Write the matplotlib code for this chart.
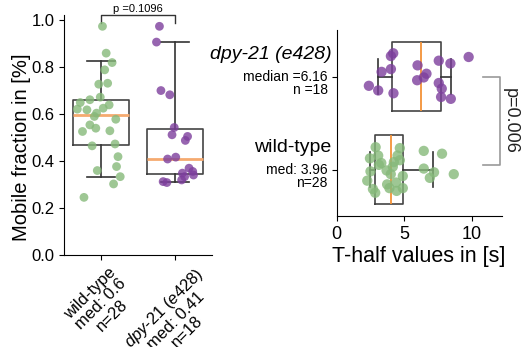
import numpy as np
import matplotlib
matplotlib.use('Agg')
import matplotlib.pyplot as plt
import matplotlib.transforms as mtransforms

plt.rcParams['font.family'] = ['Liberation Sans', 'DejaVu Sans']
plt.rcParams['mathtext.fontset'] = 'custom'
plt.rcParams['mathtext.rm'] = 'Liberation Sans'
plt.rcParams['mathtext.it'] = 'Liberation Sans:italic'

# ---- mobile fraction (left panel) ----
mob_wt = [0.972, 0.858, 0.818, 0.787, 0.726, 0.730, 0.671, 0.648, 0.660, 0.620,
          0.617, 0.603, 0.624, 0.638, 0.589, 0.577, 0.553, 0.539, 0.525, 0.528,
          0.464, 0.472, 0.418, 0.376, 0.359, 0.333, 0.302, 0.245]
mob_wt_jit = [0.02, 0.07, 0.15, 0.05, -0.03, 0.09, -0.01, -0.28, -0.15, -0.32,
              -0.19, -0.06, 0.03, 0.11, -0.09, 0.20, -0.15, -0.07, -0.25, 0.12,
              -0.12, 0.19, 0.23, 0.21, -0.05, 0.26, 0.17, -0.23]
mob_dpy = [0.972, 0.905, 0.699, 0.681, 0.542, 0.511, 0.504, 0.487, 0.416, 0.408,
           0.369, 0.355, 0.348, 0.340, 0.333, 0.319, 0.312, 0.308]
mob_dpy_jit = [-0.21, -0.25, -0.19, -0.07, -0.01, -0.04, 0.17, 0.14, 0.01, -0.10,
               0.19, 0.24, 0.10, 0.25, 0.13, 0.09, -0.16, -0.11]
# box stats: whislo, q1, med, q3, whishi
mob_box_wt = [0.333, 0.468, 0.597, 0.657, 0.823]
mob_box_dpy = [0.312, 0.343, 0.409, 0.535, 0.905]
mob_labels = ['wild-type\nmed: 0.6\nn=28',
              '$\\mathit{dpy}$-$\\mathit{21\\ (e428)}$\nmed: 0.41\nn=18']
mob_p = 'p =0.1096'

# ---- T-half (right panel) ----
th_dpy = [4.18, 4.01, 3.32, 4.01, 2.38, 3.07, 4.20, 5.98, 6.64, 6.44,
          5.95, 7.55, 8.41, 9.76, 7.55, 7.77, 7.72, 8.44]
th_dpy_jit = [0.25, 0.22, 0.05, 0.08, -0.10, -0.15, -0.18, 0.12, 0.03, -0.01,
              -0.04, 0.17, 0.14, 0.21, -0.07, -0.13, -0.22, -0.24]
th_wt = [2.88, 2.46, 3.07, 3.12, 3.69, 4.15, 4.23, 4.67, 4.67, 2.26,
         2.68, 2.85, 3.73, 4.40, 4.43, 4.89, 4.89, 6.44, 7.79, 6.44,
         7.20, 6.89, 8.66, 3.30, 4.00, 2.50, 4.50, 3.90]
th_wt_jit = [0.24, 0.12, 0.15, 0.05, -0.01, 0.03, 0.08, 0.23, 0.10, -0.12,
             -0.21, -0.25, -0.16, -0.14, -0.23, -0.07, -0.20, 0.20, 0.17, 0.01,
             -0.03, -0.09, -0.05, 0.07, -0.05, -0.02, 0.15, -0.20]
th_box_wt = [2.46, 2.83, 3.98, 4.92, 7.13]
th_box_dpy = [3.07, 4.06, 6.22, 7.75, 8.46]
th_labels = [('wild-type', 'med: 3.96', 'n=28'),
             ('dpy-21 (e428)', 'median =6.16', 'n =18')]
th_p = 'p=0.006'

green = '#86b97a'
purple = '#7d3f9d'


def stats(b):
    return dict(whislo=b[0], q1=b[1], med=b[2], q3=b[3], whishi=b[4], fliers=[])


fig = plt.figure(figsize=(5.22, 3.47), dpi=100)

# left panel
ax = fig.add_axes([0.1226, 0.2651, 0.2835, 0.6916])
ax.bxp([stats(mob_box_wt), stats(mob_box_dpy)], positions=[0, 1], widths=0.75,
       boxprops=dict(color='#444444', lw=1.2),
       whiskerprops=dict(color='#333333', lw=1.2),
       capprops=dict(color='#333333', lw=1.2),
       medianprops=dict(color='#f5aa70', lw=2), zorder=2)
ax.scatter(0 + np.array(mob_wt_jit), mob_wt, s=40, color=green, alpha=0.8,
           edgecolors='none', zorder=3)
ax.scatter(1 + np.array(mob_dpy_jit), mob_dpy, s=40, color=purple, alpha=0.8,
           edgecolors='none', zorder=3)
ax.set_xlim(-0.5, 1.5)
ax.set_ylim(0, 1.02)
ax.set_yticks([0, 0.2, 0.4, 0.6, 0.8, 1.0])
ax.tick_params(labelsize=12)
ax.set_xticks([0, 1])
ax.set_xticklabels(mob_labels, rotation=45, ha='center',
                   multialignment='center', fontsize=12, linespacing=1.05)
ax.set_ylabel('Mobile fraction in [%]', fontsize=14.5)
ax.yaxis.set_label_coords(-0.22, 0.45)
ax.spines['top'].set_visible(False)
ax.spines['right'].set_visible(False)
ax.plot([0, 0, 1, 1], [0.986, 1.021, 1.021, 0.986], color='#333333', lw=1,
        clip_on=False)
ax.text(0.5, 1.025, mob_p, ha='center', va='bottom', fontsize=8)

# right panel
ax2 = fig.add_axes([0.645, 0.3775, 0.316, 0.536])
ax2.bxp([stats(th_box_wt), stats(th_box_dpy)], positions=[0, 1], widths=0.75,
        vert=False,
        boxprops=dict(color='#444444', lw=1.2),
        whiskerprops=dict(color='#333333', lw=1.2),
        capprops=dict(color='#333333', lw=1.2),
        medianprops=dict(color='#f39237', lw=1.3), zorder=2)
ax2.scatter(th_wt, 0 + np.array(th_wt_jit), s=55, color=green, alpha=0.8,
            edgecolors='none', zorder=3)
ax2.scatter(th_dpy, 1 + np.array(th_dpy_jit), s=55, color=purple, alpha=0.8,
            edgecolors='none', zorder=3)
ax2.set_xlim(0, 12.2)
ax2.set_ylim(-0.5, 1.5)
ax2.set_xticks([0, 5, 10])
ax2.set_yticks([0, 1])
ax2.set_yticklabels(['', ''])
ax2.tick_params(axis='x', labelsize=13)
ax2.set_xlabel('T-half values in [s]', fontsize=15.5, labelpad=2)
ax2.spines['top'].set_visible(False)
ax2.spines['right'].set_visible(False)

trans = mtransforms.blended_transform_factory(ax2.transAxes, ax2.transData)
for pos, (name, med, n) in zip([0, 1], th_labels):
    t1 = mtransforms.offset_copy(trans, fig=fig, x=-5, y=22, units='dots')
    ax2.text(0, pos, name, transform=t1, ha='right', va='center', fontsize=14,
             style='italic' if pos == 1 else 'normal')
    t2 = mtransforms.offset_copy(trans, fig=fig, x=-9, y=0, units='dots')
    ax2.text(0, pos, med, transform=t2, ha='right', va='center', fontsize=10)
    t3 = mtransforms.offset_copy(trans, fig=fig, x=-9, y=-13.5, units='dots')
    ax2.text(0, pos, n, transform=t3, ha='right', va='center', fontsize=10)

ax2.plot([10.8, 12.1, 12.1, 10.8], [1.0, 1.0, 0.05, 0.05], color='#999999',
         lw=1.2, clip_on=False)
ax2.text(12.85, 0.52, th_p, rotation=270, ha='center', va='center', fontsize=13,
         color='#222222', clip_on=False)

fig.savefig('out.png', dpi=100)
